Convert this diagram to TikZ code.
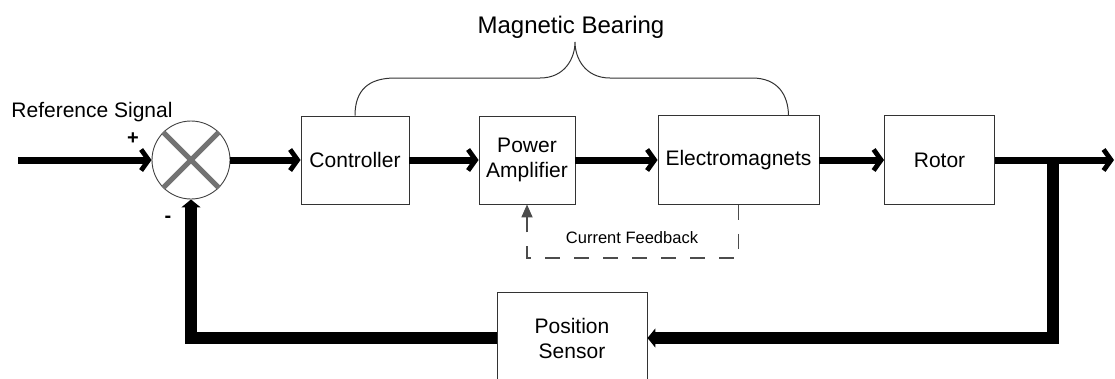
\documentclass[tikz,border=0pt]{standalone}
\usepackage{fontspec}
\setmainfont{Liberation Sans}
\usetikzlibrary{arrows.meta}
\begin{document}
\begin{tikzpicture}[x=1pt,y=-1pt,
 blk/.style={draw=black!80,line width=0.9pt,inner sep=0pt,align=center,font=\fontsize{21}{25}\selectfont},
 sig/.style={line width=7pt,-{Straight Barb[length=7.5pt,width=21pt,line width=4.8pt]}},
 fbk/.style={line width=12pt,line join=miter,-{Triangle[length=8pt,width=19pt]}},
 cur/.style={draw=black!70,line width=1.8pt,dash pattern=on 15pt off 14pt,-{Triangle[length=13pt,width=11pt]}}]
\useasboundingbox (0,0) rectangle (1115,378);
\clip (0,0) rectangle (1115,378);
\node[blk,minimum width=108pt,minimum height=88pt] (ctrl) at (355,160) {Controller};
\node[blk,minimum width=96pt,minimum height=88pt] (pa) at (527,160) {Power\\Amplifier};
\node[blk,minimum width=161pt,minimum height=89pt] (em) at (738.5,160) {Electromagnets};
\node[blk,minimum width=110pt,minimum height=89pt] (rot) at (939.5,160) {Rotor};
\node[blk,minimum width=150pt,minimum height=92pt] (ps) at (572,338) {Position\\Sensor};
\node[circle,draw=black!75,line width=0.9pt,minimum size=78pt,inner sep=0pt] (sum) at (191,160) {};
\draw[black!55,line width=5pt] (sum.north west) -- (sum.south east);
\draw[black!55,line width=5pt] (sum.north east) -- (sum.south west);
\node[font=\fontsize{21}{24}\selectfont] (ref) at (92,112) {Reference Signal};
\node[font=\bfseries\fontsize{20}{24}\selectfont] (plus) at (133,139) {+};
\node[font=\bfseries\fontsize{20}{24}\selectfont] (minus) at (168,219) {-};
\node[font=\fontsize{24}{28}\selectfont] (mb) at (571,27) {Magnetic Bearing};
\node[font=\fontsize{16.5}{20}\selectfont] (cf) at (632,238) {Current Feedback};
\coordinate (in) at (18,160);
\coordinate (out) at (1114,160);
\coordinate (br) at (1053,160);
\coordinate (tip) at (575,42);
\draw[sig] (in) -- (sum.west);
\draw[sig] (sum.east) -- (ctrl.west);
\draw[sig] (ctrl.east) -- (pa.west);
\draw[sig] (pa.east) -- (em.west);
\draw[sig] (em.east) -- (rot.west);
\draw[sig] (rot.east) -- (out);
\draw[fbk] (br) |- (ps.east);
\draw[fbk] (ps.west) -| (sum.south);
\draw[cur] (em.south) -- ++(0,53) -| (pa.south);
\draw[black!80,line width=1pt] (ctrl.north) .. controls +(0,-25) and (368,78) .. (395,78) -- (540,78) .. controls (565,78) and (575,58) .. (tip) .. controls (575,58) and (585,78) .. (610,78) -- (752,78) .. controls (778,78) and (788,95) .. ([xshift=50pt]em.north);
\end{tikzpicture}
\end{document}
